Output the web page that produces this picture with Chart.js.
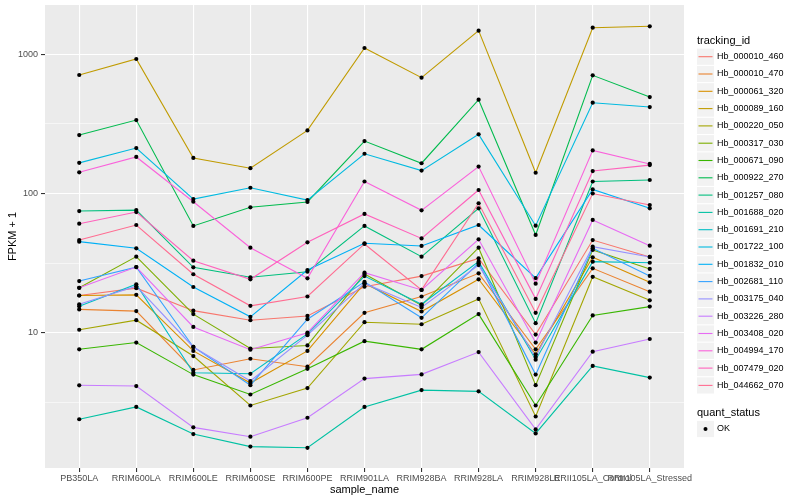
<!DOCTYPE html>
<html>
<head>
<meta charset="utf-8">
<script src="https://cdn.jsdelivr.net/npm/chart.js@4/dist/chart.umd.min.js"></script>
<style>
  html, body { margin: 0; padding: 0; background: #fff; }
  #wrap { width: 800px; height: 500px; position: relative; }
</style>
</head>
<body>
<div id="wrap"><canvas id="chart"></canvas></div>
<script>
const samples = ['PB350LA', 'RRIM600LA', 'RRIM600LE', 'RRIM600SE', 'RRIM600PE', 'RRIM901LA',
	'RRIM928BA', 'RRIM928LA', 'RRIM928LE', 'RRII105LA_Control', 'RRII105LA_Stressed'];

const trackingIds = ['Hb_000010_460', 'Hb_000010_470', 'Hb_000061_320', 'Hb_000089_160', 'Hb_000220_050',
	'Hb_000317_030', 'Hb_000671_090', 'Hb_000922_270', 'Hb_001257_080', 'Hb_001688_020',
	'Hb_001691_210', 'Hb_001722_100', 'Hb_001832_010', 'Hb_002681_110', 'Hb_003175_040',
	'Hb_003226_280', 'Hb_003408_020', 'Hb_004994_170', 'Hb_007479_020', 'Hb_044662_070'];

// FPKM + 1 per sample
const hb000010_460 = [18.5, 20.9, 14.4, 12.3, 13.2, 21.4, 25.5, 34.2, 9.7, 46.3, 35.0];
const hb000010_470 = [14.7, 14.3, 5.4, 6.5, 5.7, 13.9, 18.2, 26.7, 7.6, 29.0, 19.7];
const hb000061_320 = [18.5, 18.7, 7.4, 4.35, 7.4, 22.6, 14.2, 24.2, 7.0, 34.8, 23.0];
const hb000089_160 = [710, 925, 180, 152, 284, 1110, 679, 1479, 141, 1553, 1589];
const hb000220_050 = [10.5, 12.3, 6.8, 3.0, 4.0, 11.9, 11.5, 17.5, 2.5, 25.2, 17.1];
const hb000317_030 = [21.0, 35.2, 13.6, 7.7, 8.1, 26.4, 15.7, 40.8, 4.2, 39.3, 28.7];
const hb000671_090 = [7.6, 8.5, 5.0, 3.6, 5.5, 8.7, 7.6, 13.6, 3.0, 13.3, 15.4];
const hb000922_270 = [263, 337, 58.5, 79.6, 86.9, 238, 165, 472, 50.4, 706, 493];
const hb001257_080 = [74.8, 76.0, 29.5, 25.0, 27.4, 58.5, 35.2, 78.3, 11.7, 122, 125];
const hb001688_020 = [2.39, 2.93, 1.87, 1.52, 1.49, 2.93, 3.87, 3.79, 1.89, 5.77, 4.76];
const hb001691_210 = [15.5, 22.3, 5.16, 5.07, 9.8, 25.5, 16.0, 32.4, 6.4, 32.4, 31.8];
const hb001722_100 = [166, 212, 91.2, 110, 89.7, 193, 146, 266, 58.7, 449, 418];
const hb001832_010 = [45.1, 40.4, 21.3, 13.0, 28.2, 43.9, 42.0, 59.4, 24.7, 107, 78.3];
const hb002681_110 = [23.5, 29.6, 7.9, 4.2, 12.5, 23.2, 12.8, 31.6, 5.0, 40.4, 25.6];
const hb003175_040 = [16.0, 21.6, 7.9, 4.5, 9.6, 22.6, 15.2, 30.6, 6.7, 41.5, 35.0];
const hb003226_280 = [4.19, 4.14, 2.09, 1.79, 2.45, 4.68, 5.02, 7.26, 2.02, 7.31, 9.01];
const hb003408_020 = [21.0, 29.6, 11.0, 7.55, 10.0, 27.0, 20.3, 46.9, 8.5, 64.6, 42.2];
const hb004994_170 = [142, 183, 87.3, 40.8, 24.6, 122, 75.7, 156, 22.5, 204, 163];
const hb007479_020 = [60.7, 73.6, 32.9, 24.2, 44.6, 71.3, 47.6, 106, 17.5, 145, 160];
const hb044662_070 = [46.3, 59.4, 26.3, 15.6, 18.2, 43.4, 20.3, 85.1, 13.9, 100, 82.6];

const seriesValues = [hb000010_460, hb000010_470, hb000061_320, hb000089_160, hb000220_050,
	hb000317_030, hb000671_090, hb000922_270, hb001257_080, hb001688_020,
	hb001691_210, hb001722_100, hb001832_010, hb002681_110, hb003175_040,
	hb003226_280, hb003408_020, hb004994_170, hb007479_020, hb044662_070];

const colors = ['#F8766D', '#EA8331', '#D89000', '#C09B00', '#A3A500', '#7CAE00', '#39B600',
	'#00BB4E', '#00BF7D', '#00C1A3', '#00BFC4', '#00BAE0', '#00B0F6', '#35A2FF', '#9590FF',
	'#C77CFF', '#E76BF3', '#FA62DB', '#FF62BC', '#FF6C91'];

const majorTicks = [10, 100, 1000];
const minorTicks = [Math.sqrt(10), Math.sqrt(1000), Math.sqrt(100000)];
const FONT = "'Liberation Sans', Arial, sans-serif";

const ctx = document.getElementById('chart');

const lineSets = seriesValues.map((vals, i) => ({
	label: trackingIds[i],
	data: vals.map((v, j) => ({ x: j, y: v })),
	borderColor: colors[i],
	borderWidth: 1.1,
	pointRadius: 0,
	fill: false,
	tension: 0,
	order: seriesValues.length - i,
}));

const pointSet = {
	label: 'OK',
	data: seriesValues.flatMap((vals) => vals.map((v, j) => ({ x: j, y: v }))),
	showLine: false,
	pointRadius: 2.1,
	pointBackgroundColor: '#000',
	pointBorderColor: '#000',
	pointBorderWidth: 0,
	order: -1,
};

const panelBg = {
	id: 'panelBg',
	beforeDraw(chart) {
		const a = chart.chartArea;
		const c = chart.ctx;
		c.save();
		c.fillStyle = '#EBEBEB';
		c.fillRect(a.left, a.top, a.right - a.left, a.bottom - a.top);
		c.restore();
	},
};

const ggLegend = {
	id: 'ggLegend',
	afterDraw(chart) {
		const c = chart.ctx;
		const x0 = 697;
		c.save();
		c.textBaseline = 'middle';
		c.textAlign = 'left';
		c.fillStyle = '#000';
		c.font = '11px ' + FONT;
		c.fillText('tracking_id', x0, 41);
		trackingIds.forEach((id, i) => {
			const yc = 56.7 + i * 17.3;
			c.fillStyle = '#F2F2F2';
			c.fillRect(x0, yc - 8.1, 17, 16.2);
			c.strokeStyle = colors[i];
			c.lineWidth = 1.1;
			c.beginPath();
			c.moveTo(x0 + 1.5, yc);
			c.lineTo(x0 + 15.5, yc);
			c.stroke();
			c.fillStyle = '#000';
			c.font = '9px ' + FONT;
			c.fillText(id, x0 + 20, yc);
		});
		c.font = '11px ' + FONT;
		c.fillText('quant_status', x0, 412.5);
		c.fillStyle = '#F2F2F2';
		c.fillRect(x0, 429 - 8.1, 17, 16.2);
		c.fillStyle = '#000';
		c.beginPath();
		c.arc(x0 + 8.5, 429, 2, 0, Math.PI * 2);
		c.fill();
		c.font = '9px ' + FONT;
		c.fillText('OK', x0 + 20, 429);
		c.restore();
	},
};

new Chart(ctx, {
	type: 'line',
	data: { datasets: [...lineSets, pointSet] },
	plugins: [panelBg, ggLegend],
	options: {
		responsive: true,
		maintainAspectRatio: false,
		animation: false,
		layout: { padding: { top: 5, right: 116, bottom: 0, left: 0 } },
		plugins: {
			legend: { display: false },
			tooltip: { enabled: false },
		},
		scales: {
			x: {
				type: 'linear',
				min: -0.6,
				max: samples.length - 1 + 0.6,
				afterBuildTicks: (scale) => {
					scale.ticks = samples.map((s, i) => ({ value: i }));
				},
				afterFit: (scale) => {
					scale.height = 32;
					scale.paddingLeft = 0;
					scale.paddingRight = 0;
				},
				ticks: {
					autoSkip: false,
					maxRotation: 0,
					minRotation: 0,
					padding: 1,
					color: '#4D4D4D',
					font: { family: FONT, size: 9 },
					callback: (v) => samples[v],
				},
				grid: {
					color: '#FFFFFF',
					lineWidth: 1.1,
					tickColor: '#333333',
					tickLength: 4,
				},
				border: { display: false },
				title: {
					display: true,
					text: 'sample_name',
					color: '#000',
					font: { family: FONT, size: 11 },
					padding: { top: 0, bottom: 3 },
				},
			},
			y: {
				type: 'logarithmic',
				min: 1.067,
				max: 2260,
				afterBuildTicks: (scale) => {
					scale.ticks = [...minorTicks, ...majorTicks]
						.sort((a, b) => a - b)
						.map((v) => ({ value: v }));
				},
				afterFit: (scale) => {
					scale.width = 45;
					scale.paddingTop = 0;
					scale.paddingBottom = 0;
				},
				ticks: {
					autoSkip: false,
					padding: 3,
					color: '#4D4D4D',
					font: { family: FONT, size: 9 },
					callback: (v) => (majorTicks.includes(v) ? String(v) : ''),
				},
				grid: {
					color: '#FFFFFF',
					lineWidth: (c) => (c.tick && majorTicks.includes(c.tick.value) ? 1.1 : 0.55),
					tickColor: (c) => (c.tick && majorTicks.includes(c.tick.value) ? '#333333' : 'rgba(0,0,0,0)'),
					tickLength: 4,
				},
				border: { display: false },
				title: {
					display: true,
					text: 'FPKM + 1',
					color: '#000',
					font: { family: FONT, size: 11 },
					padding: { top: 6, bottom: 0 },
				},
			},
		},
	},
});
</script>
</body>
</html>
